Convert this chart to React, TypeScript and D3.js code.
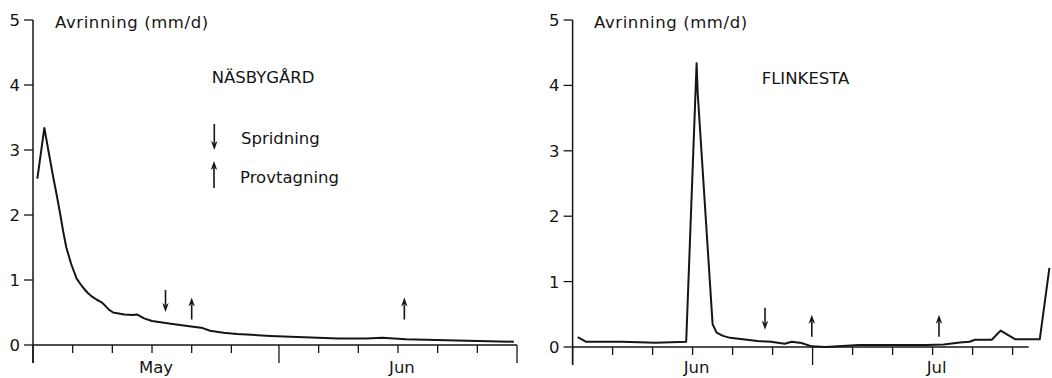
import React from 'react';
import * as d3 from 'd3';

const FONT = '"DejaVu Sans", sans-serif';
const INK = '#151515';

// Näsbygård: [days after 1 May, runoff mm/d]
const nasbygardFlow: [number, number][] = [
  [0.55, 2.56], [1.43, 3.34], [2.0, 2.95], [2.6, 2.55], [3.0, 2.3], [3.45, 2.0],
  [3.8, 1.75], [4.2, 1.5], [4.8, 1.25], [5.5, 1.02], [6.2, 0.9], [6.9, 0.8],
  [7.5, 0.74], [8.0, 0.7], [8.6, 0.66], [9.05, 0.61], [9.6, 0.54], [10.1, 0.5],
  [11.5, 0.47], [12.6, 0.46], [13.1, 0.47], [14.0, 0.41], [15.0, 0.37],
  [17.15, 0.33], [19.7, 0.29], [21.4, 0.26], [22.3, 0.22], [24.0, 0.19],
  [25.7, 0.17], [29.9, 0.14], [34.2, 0.12], [38.5, 0.1], [42.0, 0.1],
  [44.0, 0.11], [47.0, 0.09], [53.4, 0.07], [60.6, 0.05],
];
const nasbygardSpreading = [16.7];
const nasbygardSampling = [20.0, 46.8];

// Flinkesta: [days after 1 June, runoff mm/d]
const flinkestaFlow: [number, number][] = [
  [0.64, 0.15], [1.7, 0.08], [6.15, 0.08], [10.4, 0.065], [14.2, 0.08],
  [15.5, 4.34], [15.64, 3.88], [17.5, 0.35], [18.0, 0.22], [18.8, 0.17],
  [19.7, 0.14], [23.1, 0.09], [24.8, 0.08], [26.5, 0.05], [27.4, 0.08],
  [28.6, 0.06], [29.9, 0.01], [31.6, 0.0], [35.8, 0.03], [44.3, 0.03],
  [46.4, 0.04], [48.4, 0.07], [49.6, 0.08], [50.3, 0.11], [52.4, 0.11],
  [53.5, 0.25], [55.3, 0.12], [58.4, 0.12], [59.6, 1.21],
];
const flinkestaSpreading = [24.05];
const flinkestaSampling = [29.9, 45.8];

const yTicks = [0, 1, 2, 3, 4, 5];
const tickDays = [1, 6, 11, 16, 21, 26];
const yLabel = 'Avrinning (mm/d)';

const DAY = 864e5;
const utc = (m: number, d: number) => new Date(Date.UTC(1990, m, d));
const addDays = (t: Date, n: number) => new Date(t.getTime() + n * DAY);

function Arrow({ x, tail, tip }: { x: number; tail: number; tip: number }) {
  const dir = tip > tail ? 1 : -1;
  const base = tip - dir * 9;
  return (
    <g>
      <line x1={x} x2={x} y1={tail} y2={base + dir * 2} stroke={INK} strokeWidth={1.6} />
      <path d={`M${x},${tip} L${x - 3.2},${base} L${x},${base + dir * 2.5} L${x + 3.2},${base} Z`} fill={INK} />
    </g>
  );
}

type PanelProps = {
  start: Date;
  end: Date;
  axisEnd: Date;
  x0: number;
  x1: number;
  y0: number;
  flow: [number, number][];
  spreading: number[];
  sampling: number[];
  months: string[];
  title: string;
  titleX: number;
  titleY: number;
  labelX: number;
  downTop: number;
  upTip: number;
};

function Panel(p: PanelProps) {
  const x = d3.scaleUtc().domain([p.start, p.end]).range([p.x0, p.x1]);
  const y = d3.scaleLinear().domain([0, 5]).range([p.y0, 20]);
  const line = d3.line<[number, number]>()
    .x(d => x(addDays(p.start, d[0])))
    .y(d => y(d[1]));
  const ticks = d3.utcDays(p.start, addDays(p.axisEnd, 1)).filter(d => tickDays.includes(d.getUTCDate()));
  const monthStarts = d3.utcMonths(p.start, p.end).slice(0, p.months.length);
  const axisX = p.x0;

  return (
    <g fontFamily={FONT} fill={INK}>
      {/* y axis */}
      <line x1={axisX} x2={axisX} y1={y(5)} y2={p.y0 + 18} stroke={INK} strokeWidth={1.5} />
      {yTicks.map(t => (
        <g key={t}>
          <line x1={axisX - 9} x2={axisX} y1={y(t)} y2={y(t)} stroke={INK} strokeWidth={1.3} />
          <text x={axisX - 13} y={y(t)} dy="0.36em" textAnchor="end" fontSize={16.5}>{t}</text>
        </g>
      ))}
      <text x={p.labelX} y={28} fontSize={16.5} letterSpacing={0.6}>{yLabel}</text>

      {/* x axis */}
      <line x1={axisX} x2={x(p.axisEnd)} y1={p.y0} y2={p.y0} stroke={INK} strokeWidth={1.3} />
      {ticks.map(t => (
        <line key={t.getTime()} x1={x(t)} x2={x(t)} y1={p.y0}
          y2={p.y0 + (t.getUTCDate() === 1 ? 18 : 8)} stroke={INK} strokeWidth={1.3} />
      ))}
      {monthStarts.map((m, i) => (
        <text key={i} x={x(addDays(m, 15.5))} y={372.5} textAnchor="middle" fontSize={16.5}>{p.months[i]}</text>
      ))}

      <text x={p.titleX} y={p.titleY} fontSize={16.5}>{p.title}</text>

      <path d={line(p.flow) ?? ''} fill="none" stroke={INK} strokeWidth={2} strokeLinejoin="round" />

      {p.spreading.map(d => (
        <Arrow key={'s' + d} x={x(addDays(p.start, d))} tail={p.downTop} tip={p.downTop + 22} />
      ))}
      {p.sampling.map(d => (
        <Arrow key={'p' + d} x={x(addDays(p.start, d))} tail={p.upTip + 22} tip={p.upTip} />
      ))}
    </g>
  );
}

export default function App() {
  return (
    <svg width={1052} height={378} style={{ position: 'absolute', left: 0, top: 0, background: '#fff' }}>
      <Panel
        start={utc(4, 1)} end={utc(6, 1)} axisEnd={utc(6, 1)}
        x0={33} x1={517} y0={345}
        flow={nasbygardFlow} spreading={nasbygardSpreading} sampling={nasbygardSampling}
        months={['May', 'Jun']} title="NÄSBYGÅRD" titleX={211.7} titleY={83.3} labelX={55}
        downTop={290} upTip={297.5}
      />
      <Panel
        start={utc(5, 1)} end={utc(7, 1)} axisEnd={utc(6, 28)}
        x0={572.6} x1={1060.6} y0={347}
        flow={flinkestaFlow} spreading={flinkestaSpreading} sampling={flinkestaSampling}
        months={['Jun', 'Jul']} title="FLINKESTA" titleX={761.7} titleY={84} labelX={594}
        downTop={307.7} upTip={314.8}
      />
      {/* legend */}
      <g fontFamily={FONT} fill={INK} fontSize={16.5}>
        <Arrow x={214.3} tail={124} tip={150} />
        <text x={241} y={144}>Spridning</text>
        <Arrow x={214} tail={188} tip={161} />
        <text x={240} y={183}>Provtagning</text>
      </g>
    </svg>
  );
}
